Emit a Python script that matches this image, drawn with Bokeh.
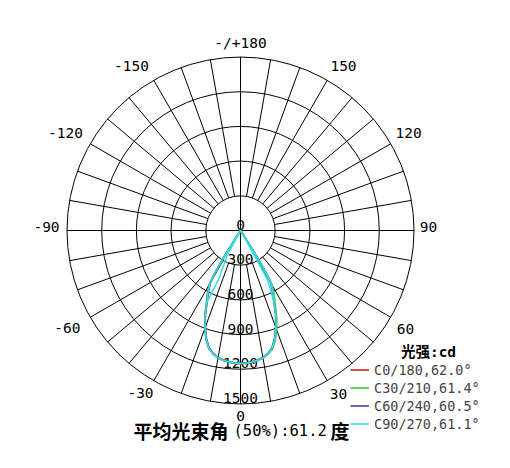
import numpy as np
from bokeh.plotting import figure
from bokeh.models import Range1d, Legend, LegendItem
from bokeh.core.properties import value
from bokeh.embed import file_html
from bokeh.resources import INLINE

# ---------------- data ----------------
ring_ticks = [300, 600, 900, 1200, 1500]          # cd
ring_labels = ["0", "300", "600", "900", "1200", "1500"]
angle_ticks = [0, 30, 60, 90, 120, 150, 180, -150, -120, -90, -60, -30]
angle_labels = ["0", "30", "60", "90", "120", "150", "-/+180", "-150", "-120", "-90", "-60", "-30"]
spoke_step = 10

# gamma angles (deg) for the half planes
gamma = [0, 2.5, 5, 7.5, 10, 12.5, 15, 17.5, 20, 22.5, 25, 27.5, 30, 31, 32, 33]

c0_cd   = [1152, 1150, 1144, 1134, 1120, 1094, 1058, 990, 902, 808, 700, 620, 540, 452, 262, 0]
c180_cd = [1152, 1150, 1144, 1134, 1120, 1094, 1058, 990, 902, 808, 700, 620, 540, 452, 262, 0]
c30_cd  = [1150, 1148, 1142, 1133, 1120, 1095, 1062, 998, 915, 820, 712, 628, 545, 455, 260, 0]
c210_cd = [1150, 1148, 1142, 1132, 1118, 1092, 1055, 985, 897, 802, 692, 612, 532, 442, 252, 0]
c60_cd  = [1148, 1146, 1140, 1130, 1115, 1088, 1050, 978, 888, 792, 682, 600, 520, 430, 240, 0]
c240_cd = [1148, 1146, 1140, 1130, 1115, 1088, 1050, 978, 888, 792, 682, 600, 520, 430, 240, 0]
c90_cd  = [1150, 1148, 1142, 1132, 1118, 1092, 1055, 985, 895, 800, 690, 610, 530, 440, 250, 0]
c270_cd = [1150, 1148, 1142, 1132, 1118, 1092, 1055, 985, 895, 800, 690, 610, 530, 440, 250, 0]

# extra strokes drawn by the source program in the C90/270 curve
c90_inner_deg = [29, 29, 28.9, 25]
c90_inner_cd = [0, 150, 477, 690]
c270_inner_deg = [-28, -28, -24.2, -25]
c270_inner_cd = [0, 245, 458, 690]

series_names = ["C0/180,62.0°", "C30/210,61.4°", "C60/240,60.5°", "C90/270,61.1°"]
series_colors = ["#d02020", "#30d030", "#4040a0", "#30e0e0"]

legend_title = "光强:cd"
title_a = "平均光束角"
title_b = "(50%):61.2"
title_c = "度"

# ---------------- scale / style ----------------
R_OUT = 173.5                      # px for outer ring
SCALE = R_OUT / ring_ticks[-1]     # px per cd
R_LAB = 190                        # px, angle label radius
# small per-label nudges (screen px) of the angle labels
lab_dx = [0, 3, 0.5, -2, 3.5, 8, 0, -14, -10.5, -4, -8.5, -5]
lab_dy = [-5, -1.5, 3, -4, -3, 0.5, 2, 0.5, -3, -4, 2, -2.5]


def polar_xy(deg, cd):
    t = np.radians(np.asarray(deg, dtype=float))
    r = np.asarray(cd, dtype=float) * SCALE
    return r * np.sin(t), -r * np.cos(t)


def full_path(right_cd, left_cd):
    g = np.asarray(gamma, dtype=float)
    deg = np.concatenate([-g[::-1], g[1:]])
    cd = np.concatenate([np.asarray(left_cd)[::-1], np.asarray(right_cd)[1:]])
    return polar_xy(deg, cd)


W, H = 494, 452
p = figure(width=W, height=H, output_backend="svg", toolbar_location=None,
           x_range=Range1d(-240, 254), y_range=Range1d(-222, 230),
           min_border=0, outline_line_color=None)
p.axis.visible = False
p.grid.visible = False
p.background_fill_color = "white"
p.border_fill_color = "white"

# rings
radii = [t * SCALE for t in ring_ticks]
p.circle(x=[0] * len(radii), y=[0] * len(radii), radius=radii,
         fill_color=None, line_color="black", line_width=1)

# spokes
sp = np.arange(0, 360, spoke_step)
sp = sp[sp % 90 != 0]
r1, r2 = radii[0], radii[-1]
t = np.radians(sp)
p.segment(x0=r1 * np.sin(t), y0=-r1 * np.cos(t), x1=r2 * np.sin(t), y1=-r2 * np.cos(t),
          line_color="black", line_width=1)
ax = np.radians([0, 90])
p.segment(x0=-r2 * np.sin(ax), y0=r2 * np.cos(ax), x1=r2 * np.sin(ax), y1=-r2 * np.cos(ax),
          line_color="black", line_width=1)

# ring labels along the 0 direction (just above each ring)
ring_vals = [0] + ring_ticks
p.text(x=[0] * len(ring_vals), y=[-v * SCALE for v in ring_vals], text=ring_labels,
       y_offset=-6, text_align="center", text_baseline="middle",
       text_font=value("DejaVu Sans Mono"), text_font_size="14.5px", text_color="black")

# angle labels
ta = np.radians(angle_ticks)
p.text(x=R_LAB * np.sin(ta), y=-R_LAB * np.cos(ta), text=angle_labels,
       x_offset=lab_dx, y_offset=lab_dy, text_align="center", text_baseline="middle",
       text_font=value("DejaVu Sans Mono"), text_font_size="14.5px", text_color="black")

# curves
pairs = [(c0_cd, c180_cd), (c30_cd, c210_cd), (c60_cd, c240_cd), (c90_cd, c270_cd)]
renderers = []
for (rc, lc), col in zip(pairs, series_colors):
    x, y = full_path(rc, lc)
    renderers.append(p.line(x, y, line_color=col, line_width=1.6))

xi, yi = polar_xy(c90_inner_deg, c90_inner_cd)
p.line(xi, yi, line_color=series_colors[3], line_width=1.4)
xi, yi = polar_xy(c270_inner_deg, c270_inner_cd)
p.line(xi, yi, line_color=series_colors[3], line_width=1.4)

# legend
legend = Legend(items=[LegendItem(label=n, renderers=[r]) for n, r in zip(series_names, renderers)],
                location=(350, 20), orientation="vertical", padding=0, margin=0, spacing=1,
                glyph_width=19, glyph_height=17, label_height=17, label_standoff=5,
                label_text_font="DejaVu Sans Mono", label_text_font_size="13.5px",
                border_line_color=None, background_fill_alpha=0)
p.add_layout(legend)

p.text(x=[188], y=[-121.7], text=[legend_title], text_align="center", text_baseline="middle",
       text_font=value("DejaVu Sans Mono, Noto Sans CJK SC"), text_font_size="14.5px",
       text_font_style="bold", text_color="black")

# bottom title
p.text(x=[-107], y=[-200], text=[title_a], text_align="left", text_baseline="middle",
       text_font=value("Noto Sans CJK SC"), text_font_size="19px", text_font_style="bold",
       text_color="black")
p.text(x=[-7], y=[-200], text=[title_b], text_align="left", text_baseline="middle",
       text_font=value("DejaVu Sans Mono"), text_font_size="15.5px", text_color="black")
p.text(x=[90], y=[-200], text=[title_c], text_align="left", text_baseline="middle",
       text_font=value("Noto Sans CJK SC"), text_font_size="19px", text_font_style="bold",
       text_color="black")

open("out.html", "w").write(file_html(p, INLINE))
